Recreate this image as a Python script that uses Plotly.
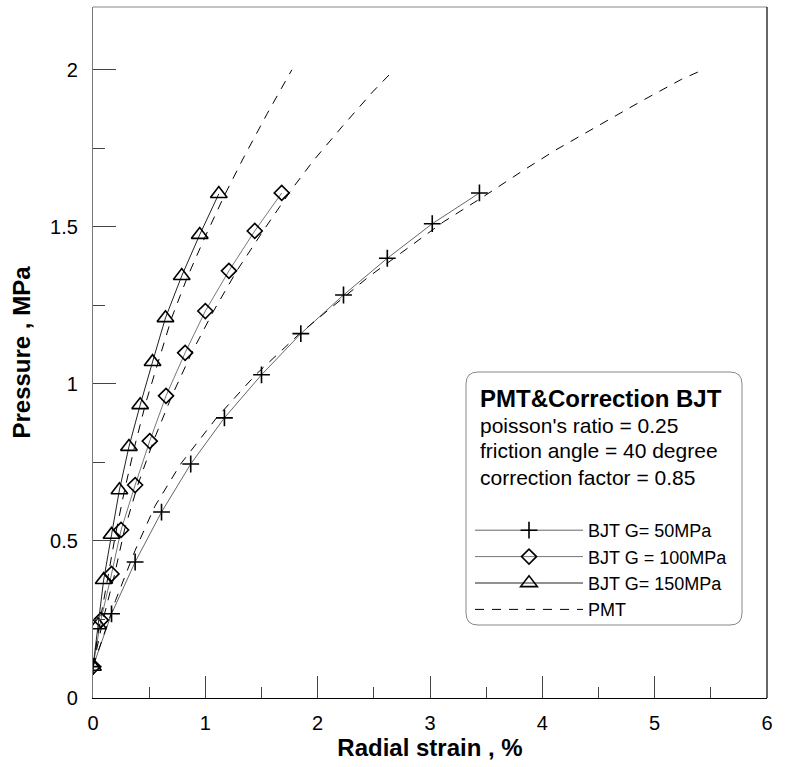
import plotly.graph_objects as go

# ---- data ----
g50_x = [0, 0.165, 0.375, 0.61, 0.87, 1.17, 1.50, 1.85, 2.23, 2.62, 3.02, 3.44]
g50_y = [0.1, 0.268, 0.433, 0.592, 0.745, 0.892, 1.029, 1.16, 1.283, 1.40, 1.51, 1.608]

g100_x = [0, 0.07, 0.165, 0.25, 0.375, 0.505, 0.65, 0.82, 1.0, 1.21, 1.44, 1.68]
g100_y = [0.1, 0.248, 0.395, 0.535, 0.678, 0.818, 0.962, 1.099, 1.232, 1.36, 1.487, 1.608]

g150_x = [0, 0.045, 0.095, 0.165, 0.235, 0.32, 0.42, 0.53, 0.645, 0.79, 0.95, 1.12]
g150_y = [0.1, 0.232, 0.376, 0.52, 0.662, 0.80, 0.933, 1.07, 1.21, 1.344, 1.475, 1.605]

pmt1_x = [0, 0.06, 0.13, 0.2, 0.28, 0.37, 0.47, 0.58, 0.7, 0.84, 1.0, 1.17, 1.34, 1.55, 1.77]
pmt1_y = [0.1, 0.24, 0.38, 0.52, 0.66, 0.80, 0.94, 1.07, 1.21, 1.34, 1.47, 1.60, 1.72, 1.86, 2.0]

pmt2_x = [0, 0.09, 0.19, 0.28, 0.40, 0.54, 0.70, 0.88, 1.07, 1.28, 1.52, 1.77, 1.96, 2.22, 2.49, 2.68]
pmt2_y = [0.1, 0.25, 0.39, 0.535, 0.68, 0.82, 0.96, 1.10, 1.23, 1.36, 1.49, 1.62, 1.71, 1.82, 1.93, 2.0]

pmt3_x = [0, 0.2, 0.375, 0.55, 0.78, 1.10, 1.45, 1.84, 2.45, 2.79, 3.12, 3.47, 3.81, 4.12, 4.51, 4.88, 5.24, 5.43]
pmt3_y = [0.1, 0.31, 0.47, 0.61, 0.745, 0.892, 1.03, 1.16, 1.34, 1.43, 1.516, 1.595, 1.675, 1.745, 1.825, 1.90, 1.97, 2.0]

x_ticks = [0, 1, 2, 3, 4, 5, 6]
y_ticks = [0, 0.5, 1, 1.5, 2]

FONT = "Liberation Sans, Arial, sans-serif"
DASH = "9px,8px"

fig = go.Figure()

fig.add_trace(go.Scatter(x=g50_x, y=g50_y, mode="lines+markers", name="BJT G= 50MPa",
                         line=dict(color="#666666", width=1),
                         marker=dict(symbol="cross-thin-open", size=12, color="black",
                                     line=dict(color="black", width=1.6))))
fig.add_trace(go.Scatter(x=g100_x, y=g100_y, mode="lines+markers", name="BJT G = 100MPa",
                         line=dict(color="#777777", width=1),
                         marker=dict(symbol="diamond-open", size=11.5, color="black",
                                     line=dict(color="black", width=1.6))))
fig.add_trace(go.Scatter(x=g150_x, y=g150_y, mode="lines+markers", name="BJT G= 150MPa",
                         line=dict(color="#222222", width=1),
                         marker=dict(symbol="triangle-up-open", size=14.5, color="black",
                                     line=dict(color="black", width=1.6))))
fig.add_trace(go.Scatter(x=pmt1_x, y=pmt1_y, mode="lines", name="PMT",
                         line=dict(color="black", width=1, dash=DASH)))
fig.add_trace(go.Scatter(x=pmt2_x, y=pmt2_y, mode="lines", name="PMT",
                         showlegend=False, line=dict(color="black", width=1, dash=DASH)))
fig.add_trace(go.Scatter(x=pmt3_x, y=pmt3_y, mode="lines", name="PMT",
                         showlegend=False, line=dict(color="black", width=1, dash=DASH)))

# paper-coordinate helpers for legend box
L, R, T, B = 93, 767, 7, 698
def px(x): return (x - L) / (R - L)
def py(y): return (B - y) / (B - T)

bx0, bx1, by0, by1 = px(466), px(742), py(625), py(372)
rx, ry = 12 / (R - L), 12 / (B - T)
path = (f"M{bx0+rx},{by1} L{bx1-rx},{by1} Q{bx1},{by1} {bx1},{by1-ry} "
        f"L{bx1},{by0+ry} Q{bx1},{by0} {bx1-rx},{by0} "
        f"L{bx0+rx},{by0} Q{bx0},{by0} {bx0},{by0+ry} "
        f"L{bx0},{by1-ry} Q{bx0},{by1} {bx0+rx},{by1} Z")

shapes = [
    dict(type="path", xref="paper", yref="paper", path=path,
         line=dict(color="#888888", width=1), fillcolor="rgba(255,255,255,0)", layer="below"),
    dict(type="line", xref="paper", yref="paper", x0=0, x1=1, y0=1, y1=1,
         line=dict(color="#888888", width=1.2)),
    dict(type="line", xref="paper", yref="paper", x0=1, x1=1, y0=0, y1=1,
         line=dict(color="black", width=1.2)),
]

annotations = [
    dict(text="<b>PMT&Correction BJT</b>", x=px(478), y=py(398), font=dict(size=24)),
    dict(text="poisson's ratio = 0.25", x=px(478), y=py(425), font=dict(size=21)),
    dict(text="friction angle = 40 degree", x=px(478), y=py(451), font=dict(size=21)),
    dict(text="correction factor = 0.85", x=px(478), y=py(477), font=dict(size=21)),
]
for a in annotations:
    a.update(xref="paper", yref="paper", xanchor="left", yanchor="middle",
             showarrow=False)
    a["font"].update(family=FONT, color="black")

fig.update_layout(
    width=792, height=767,
    margin=dict(l=L, r=792 - R, t=T, b=767 - B),
    paper_bgcolor="white", plot_bgcolor="white",
    font=dict(family=FONT, color="black"),
    shapes=shapes, annotations=annotations,
    showlegend=True,
    legend=dict(x=px(470), y=py(512), xanchor="left", yanchor="top",
                bgcolor="rgba(0,0,0,0)", font=dict(size=18, family=FONT),
                traceorder="normal", itemwidth=108),
    xaxis=dict(range=[0, 6], tickvals=x_ticks, ticktext=[str(v) for v in x_ticks],
               ticks="inside", ticklen=22, tickwidth=1.2, tickcolor="#444444",
               minor=dict(dtick=0.5, ticks="inside", ticklen=11, tickcolor="#444444", tickwidth=1),
               showgrid=False, zeroline=False, showline=True, linecolor="black", linewidth=1.2,
               tickfont=dict(size=20, family=FONT), ticklabelstandoff=7,
               title=dict(text="<b>Radial strain , %</b>", font=dict(size=24, family=FONT),
                          standoff=3)),
    yaxis=dict(range=[0, 2.2], tickvals=y_ticks, ticktext=["0", "0.5", "1", "1.5", "2"],
               ticks="inside", ticklen=23, tickwidth=1.2, tickcolor="#444444",
               minor=dict(dtick=0.25, ticks="inside", ticklen=12, tickcolor="#444444", tickwidth=1),
               showgrid=False, zeroline=False, showline=True, linecolor="#777777", linewidth=1.2,
               tickfont=dict(size=20, family=FONT), ticklabelstandoff=10,
               title=dict(text="<b>Pressure , MPa</b>", font=dict(size=24, family=FONT),
                          standoff=12)),
)

fig.write_html("out.html")
